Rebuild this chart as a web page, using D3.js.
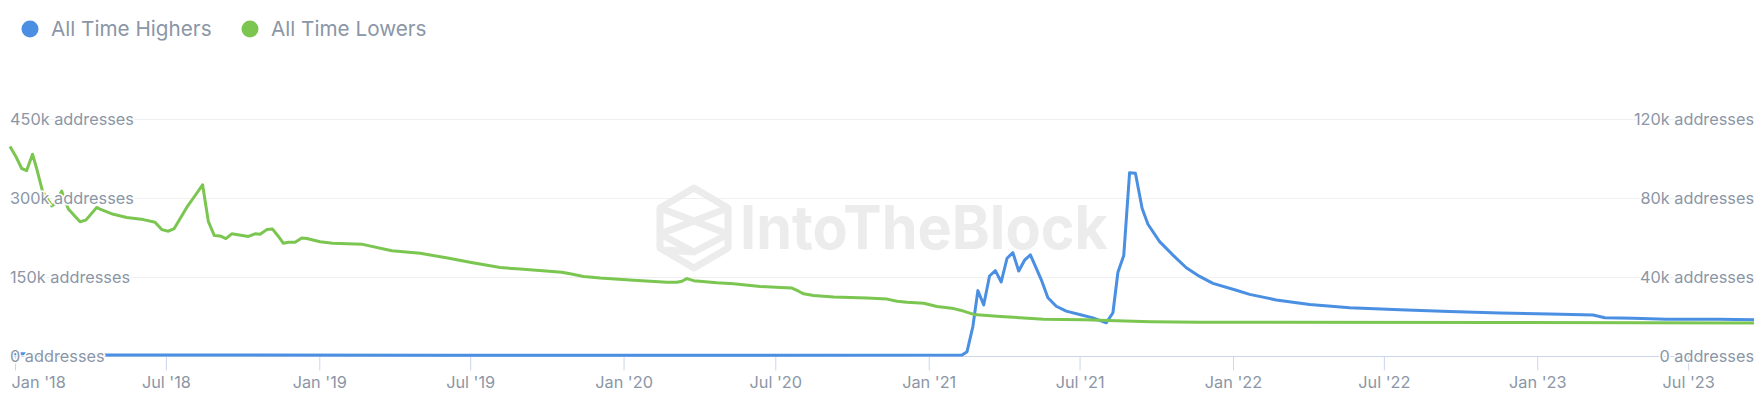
<!DOCTYPE html>
<html>
<head>
<meta charset="utf-8">
<script src="https://cdn.jsdelivr.net/npm/d3@7"></script>
<style>
body { margin: 0; background: #fff; }
text { font-family: Inter, "Noto Sans", sans-serif; }
</style>
</head>
<body>
<div id="chart"></div>
<script>
const width = 1758, height = 394;

// All Time Lowers (left axis)
const lowersDates = [
  "2017-12-26","2018-01-02","2018-01-09","2018-01-15","2018-01-22","2018-01-27","2018-02-03","2018-02-14",
  "2018-02-18","2018-02-26","2018-03-06","2018-03-20","2018-03-27","2018-04-09","2018-04-13","2018-04-29",
  "2018-05-15","2018-06-04","2018-06-18","2018-06-26","2018-07-04","2018-07-11","2018-07-26","2018-08-07",
  "2018-08-14","2018-08-21","2018-08-28","2018-09-04","2018-09-11","2018-09-18","2018-10-08","2018-10-16",
  "2018-10-22","2018-10-30","2018-11-06","2018-11-13","2018-11-19","2018-11-25","2018-12-03","2018-12-11",
  "2018-12-17","2019-01-02","2019-01-17","2019-02-22","2019-03-29","2019-05-02","2019-06-04","2019-07-04",
  "2019-08-06","2019-08-30","2019-10-19","2019-10-29","2019-11-14","2019-12-04","2020-01-13","2020-02-22",
  "2020-03-05","2020-03-11","2020-03-17","2020-03-25","2020-04-22","2020-05-12","2020-06-13","2020-07-07",
  "2020-07-21","2020-07-29","2020-08-04","2020-08-16","2020-09-09","2020-10-19","2020-11-12","2020-11-24",
  "2020-12-06","2020-12-26","2021-01-11","2021-01-31","2021-02-08","2021-02-24","2021-03-28","2021-05-19",
  "2021-07-06","2021-08-15","2021-09-24","2021-11-23","2022-01-22","2022-11-17","2023-09-18"
];
const lowersValues = [
  398,379,356,352,383,356,313,285,
  289,313,279,255,258,282,279,269,
  263,259,254,240,237,242,282,309,
  325,255,229,228,223,232,227,232,
  231,240,241,227,214,216,216,224,
  223,217,214,212,200,195,186,177,
  168,165,159,156,151,148,144,140,
  140,142,147,143,139,137,132,130,
  129,123,118,115,112,110,108,104,
  102,100,94,90,87,79,75,70,
  69,67,65,64,64,63.5,62.5
].map(v => v * 1000);

// All Time Highers (right axis)
const highersDates = [
  "2017-12-26","2018-01-12","2018-01-20","2018-07-01","2019-06-01","2020-06-01","2021-02-10","2021-02-16",
  "2021-02-23","2021-03-01","2021-03-08","2021-03-15","2021-03-22","2021-03-29","2021-04-05","2021-04-12",
  "2021-04-19","2021-04-26","2021-05-03","2021-05-16","2021-05-24","2021-06-03","2021-06-15","2021-07-01",
  "2021-07-17","2021-08-02","2021-08-10","2021-08-16","2021-08-23","2021-08-30","2021-09-06","2021-09-14",
  "2021-09-21","2021-10-05","2021-10-21","2021-11-06","2021-11-22","2021-12-08","2022-01-05","2022-01-21",
  "2022-02-22","2022-04-03","2022-05-21","2022-07-20","2022-09-18","2022-11-17","2023-01-16","2023-03-09",
  "2023-03-23","2023-04-26","2023-06-05","2023-08-06","2023-09-18"
];
const highersValues = [
  1.2,1.2,0.5,0.5,0.4,0.4,0.5,2.2,
  14.9,33.1,25.9,40.5,43.2,37.5,49.5,52.3,
  43,48.5,51.2,38.7,29.5,25.2,22.7,21,
  19.3,16.8,21.9,42.4,50.9,92.8,92.5,74.8,
  66.7,57.9,51.1,44.7,40.3,36.8,33.3,31.2,
  28.4,26.1,24.4,23.4,22.5,21.8,21.3,20.8,
  19.4,19.1,18.6,18.6,18.4
].map(v => v * 1000);

const leftTicks = [0, 150000, 300000, 450000];
const rightTicks = [0, 40000, 80000, 120000];
const xTicks = ["2018-01-01","2018-07-01","2019-01-01","2019-07-01","2020-01-01","2020-07-01",
  "2021-01-01","2021-07-01","2022-01-01","2022-07-01","2023-01-01","2023-07-01"];

const parse = d3.utcParse("%Y-%m-%d");
const lowers = lowersDates.map((d, i) => ({date: parse(d), value: lowersValues[i]}));
const highers = highersDates.map((d, i) => ({date: parse(d), value: highersValues[i]}));

const x = d3.scaleUtc()
  .domain([parse("2017-12-26"), parse("2023-09-18")])
  .range([10, 1754]);
const yLeft = d3.scaleLinear().domain([0, 450000]).range([356, 119]);
const yRight = d3.scaleLinear().domain([0, 120000]).range([356, 119]);

const svg = d3.select("#chart").append("svg")
  .attr("width", width)
  .attr("height", height)
  .attr("viewBox", [0, 0, width, height]);

const textColor = "#8b96a6";

// gridlines
svg.append("g")
  .selectAll("line")
  .data(leftTicks.slice(1))
  .join("line")
  .attr("x1", 10).attr("x2", 1754)
  .attr("y1", d => Math.round(yLeft(d)) + 0.5)
  .attr("y2", d => Math.round(yLeft(d)) + 0.5)
  .attr("stroke", "#f0f0f0");

// watermark
const wm = svg.append("g").attr("fill", "none").attr("stroke", "#ececec").attr("stroke-width", 7)
  .attr("stroke-linejoin", "round");
const cx = 694, cy = 228, R = 40, w = 34;
wm.append("path").attr("d", `M${cx},${cy-R} L${cx+w},${cy-R/2} L${cx+w},${cy+R/2} L${cx},${cy+R} L${cx-w},${cy+R/2} L${cx-w},${cy-R/2} Z`);
wm.append("path").attr("d", `M${cx-w},${cy-R/2} L${cx+w},${cy+6} M${cx+w},${cy-R/2} L${cx-w},${cy+6}`);
wm.append("path").attr("d", `M${cx-w},${cy+6} L${cx},${cy+R/2+4} L${cx-w+6},${cy+R/2+2} M${cx+w},${cy+6} L${cx},${cy+R/2+4}`);
svg.append("text")
  .attr("x", 740).attr("y", 249)
  .attr("font-size", 60).attr("font-weight", 700)
  .attr("fill", "#ececec")
  .attr("textLength", 368).attr("lengthAdjust", "spacingAndGlyphs")
  .text("IntoTheBlock");

// x axis
const xAxis = d3.axisBottom(x)
  .tickValues(xTicks.map(parse))
  .tickSize(14)
  .tickPadding(6)
  .tickFormat(d3.utcFormat("%b '%y"));
const gx = svg.append("g").attr("transform", "translate(0,356.5)").call(xAxis);
gx.select(".domain").attr("stroke", "#ccd6eb").attr("d", "M10,0H1754");
gx.selectAll(".tick line").attr("stroke", "#ccd6eb");
gx.selectAll(".tick text")
  .attr("fill", textColor)
  .attr("font-size", 16.3)
  .attr("font-family", "Inter, sans-serif")
  .attr("dy", "0.71em")
  .each(function() {
    const t = d3.select(this);
    const box = this.getBBox();
    const px = x(t.datum());
    if (px - box.width / 2 < 10) t.attr("text-anchor", "start").attr("x", 11 - px);
  });

// lines
const lineFor = y => d3.line().x(d => x(d.date)).y(d => y(d.value));
svg.append("path")
  .datum(highers)
  .attr("fill", "none")
  .attr("stroke", "#4a8fe2")
  .attr("stroke-width", 3)
  .attr("stroke-linejoin", "round")
  .attr("d", lineFor(yRight));
svg.append("path")
  .datum(lowers)
  .attr("fill", "none")
  .attr("stroke", "#7bc651")
  .attr("stroke-width", 3)
  .attr("stroke-linejoin", "round")
  .attr("d", lineFor(yLeft));

// y axis labels
const fmt = d => d === 0 ? "0 addresses" : (d / 1000) + "k addresses";
const yLabel = sel => sel
  .attr("font-size", 16.3)
  .attr("fill", textColor)
  .attr("stroke", "#fff")
  .attr("stroke-width", 3)
  .attr("paint-order", "stroke")
  .attr("dy", "0.36em");
svg.append("g").selectAll("text")
  .data(leftTicks)
  .join("text")
  .attr("x", 10)
  .attr("y", d => yLeft(d))
  .call(yLabel)
  .text(fmt);
svg.append("g").selectAll("text")
  .data(rightTicks)
  .join("text")
  .attr("x", 1754)
  .attr("y", d => yRight(d))
  .attr("text-anchor", "end")
  .call(yLabel)
  .text(fmt);

// legend
const legend = [{name: "All Time Highers", color: "#4a8fe2", x: 30}, {name: "All Time Lowers", color: "#7bc651", x: 250}];
const lg = svg.append("g").selectAll("g").data(legend).join("g")
  .attr("transform", d => `translate(${d.x},29)`);
lg.append("circle").attr("r", 8.5).attr("fill", d => d.color);
lg.append("text")
  .attr("x", 21).attr("y", 6.5)
  .attr("font-size", 20.7)
  .attr("fill", textColor)
  .text(d => d.name);
</script>
</body>
</html>
